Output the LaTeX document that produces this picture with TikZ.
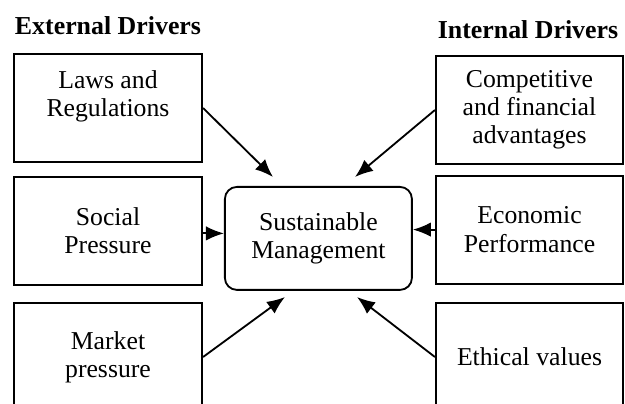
\documentclass[tikz,border=0pt]{standalone}
\usepackage{fontspec}
\setmainfont{Liberation Serif}
\usetikzlibrary{arrows.meta, positioning}

\tikzset{
    driver/.style={draw, line width=1.5pt, minimum width=4.7cm, minimum height=2.7cm,
        align=center, font=\fontsize{18.3}{20}\selectfont, inner sep=0pt},
    core/.style={draw, line width=1.3pt, rounded corners=0.3cm, minimum width=4.675cm,
        minimum height=2.575cm, align=center, font=\fontsize{18.3}{20}\selectfont},
    heading/.style={font=\fontsize{18.4}{20}\selectfont\bfseries},
    push/.style={line width=1.3pt, -{Latex[length=4.5mm, width=3.6mm]}}
}

\begin{document}
\begin{tikzpicture}

        % ==========================================
        % Margini della figura
        % ==========================================
        \useasboundingbox (0,0) rectangle (15.625,-10.075);

        % Titoli
        \node[heading] (extTitle) at (2.7,-0.63) {External Drivers};
        \node[heading] (intTitle) at (13.2,-0.75) {Internal Drivers};

        % ==========================================
        % CENTRO: Gestione sostenibile
        % ==========================================
        \node[core] (sustMgmt) at (7.96,-5.96) {Sustainable\\Management};

        % ==========================================
        % PARTE SINISTRA: driver esterni
        % ==========================================
        \node[driver] (laws)   at (2.7,-2.7)   {Laws and\\Regulations\\~};
        \node[driver] (social) at (2.7,-5.775) {Social\\Pressure};
        \node[driver] (market) at (2.7,-8.925) {Market\\pressure};

        % ==========================================
        % PARTE DESTRA: driver interni
        % ==========================================
        \node[driver, minimum width=4.675cm] (compet)  at (13.2375,-2.75)  {Competitive\\and financial\\advantages};
        \node[driver, minimum width=4.675cm] (econ)    at (13.2375,-5.74)  {Economic\\Performance};
        \node[driver, minimum width=4.675cm] (ethical) at (13.2375,-8.925) {Ethical values};

        % Punte delle frecce attorno al box centrale
        \coordinate (tipLaws)    at (6.825,-4.425);
        \coordinate (tipCompet)  at (8.875,-4.425);
        \coordinate (tipMarket)  at (7.125,-7.425);
        \coordinate (tipEthical) at (8.925,-7.425);

        % Frecce
        \draw[push] (laws.east) -- (tipLaws);
        \draw[push] (compet.west) -- (tipCompet);
        \draw[push] ([yshift=-0.6mm]social.east) -- ([yshift=-0.6mm]social.east -| sustMgmt.west);
        \draw[push] (econ.west) -- (econ.west -| sustMgmt.east);
        \draw[push] (market.east) -- (tipMarket);
        \draw[push] (ethical.west) -- (tipEthical);

    \end{tikzpicture}
\end{document}
